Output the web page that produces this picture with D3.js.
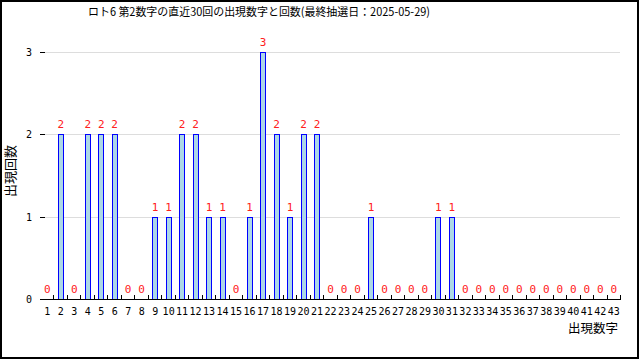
<!DOCTYPE html>
<html><head><meta charset="utf-8">
<script src="https://cdn.jsdelivr.net/npm/d3@7"></script>
<style>body{margin:0;background:#fff}svg{display:block}</style>
</head><body>
<script>
const titleText = "ロト6 第2数字の直近30回の出現数字と回数(最終抽選日：2025-05-29)";
const numbers = d3.range(1, 44);
const counts = [0,2,0,2,2,2,0,0,1,1,2,2,1,1,0,1,3,2,1,2,2,0,0,0,1,0,0,0,0,1,1,0,0,0,0,0,0,0,0,0,0,0,0];
const yTicks = [0,1,2,3];
const xLabel = "出現数字", yLabel = "出現回数";

const W = 640, H = 360;
const svg = d3.select("body").append("svg").attr("width", W).attr("height", H);
const mono = "'DejaVu Sans Mono', monospace";
const cjk = "'Noto Sans CJK JP', sans-serif";

svg.append("rect").attr("x",1).attr("y",1).attr("width",637).attr("height",357)
  .attr("fill","none").attr("stroke","#000").attr("stroke-width",2);

const x = d3.scaleBand().domain(numbers).range([40, 620]).padding(0);
const y = d3.scaleLinear().domain([0, 3]).range([299, 52]);

// gridlines
svg.append("g").selectAll("line").data(yTicks.filter(d=>d>0)).join("line")
  .attr("x1", 40).attr("x2", 620)
  .attr("y1", d=>Math.round(y(d))+0.5).attr("y2", d=>Math.round(y(d))+0.5)
  .attr("stroke", "#dddddd");

// bars
const bw = 5;
svg.append("g").selectAll("rect").data(numbers.map((n,i)=>({n, v:counts[i]})).filter(d=>d.v>0)).join("rect")
  .attr("x", d=>Math.round(x(d.n)+x.bandwidth()/2-bw/2)+0.5)
  .attr("y", d=>Math.round(y(d.v))+0.5)
  .attr("width", bw)
  .attr("height", d=>Math.round(y(0))-Math.round(y(d.v)))
  .attr("fill", "#add8e6").attr("stroke", "#0000ff").attr("stroke-width", 1)
  .attr("shape-rendering","crispEdges");

// value labels
svg.append("g").selectAll("text").data(numbers.map((n,i)=>({n, v:counts[i]}))).join("text")
  .attr("x", d=>x(d.n)+x.bandwidth()/2+0.5)
  .attr("y", d=>y(d.v)-6)
  .attr("text-anchor","middle")
  .attr("font-family", mono).attr("font-size", 11)
  .attr("fill", "#ff2020")
  .text(d=>d.v);

// x axis
const xa = svg.append("g");
xa.append("line").attr("x1",40).attr("x2",621).attr("y1",299.5).attr("y2",299.5).attr("stroke","#000");
xa.selectAll("line.tk").data(numbers.slice(1).concat([44])).join("line").attr("class","tk")
  .attr("x1", d=>Math.round(d===44?620:x(d))+0.5).attr("x2", d=>Math.round(d===44?620:x(d))+0.5)
  .attr("y1", 299).attr("y2", 295).attr("stroke","#000");
xa.selectAll("text").data(numbers).join("text")
  .attr("x", d=>x(d)+x.bandwidth()/2+0.5).attr("y", 315)
  .attr("text-anchor","middle").attr("font-family", mono).attr("font-size", 10)
  .attr("fill","#000").text(d=>d);

// y axis
const ya = svg.append("g");
ya.append("line").attr("x1",40.5).attr("x2",40.5).attr("y1",52).attr("y2",300).attr("stroke","#000");
ya.selectAll("line").data(yTicks).join(enter=>enter.append("line"))
  .attr("x1",40).attr("x2",45).attr("y1",d=>Math.round(y(d))+0.5).attr("y2",d=>Math.round(y(d))+0.5).attr("stroke","#000");
ya.selectAll("text").data(yTicks).join("text")
  .attr("x", 32).attr("y", d=>y(d)+4)
  .attr("text-anchor","end").attr("font-family", mono).attr("font-size", 10)
  .text(d=>d);

// axis titles
svg.append("text").attr("x", 618).attr("y", 333).attr("text-anchor","end")
  .attr("font-family", cjk).attr("font-size", 12.5).attr("fill","#000").text(xLabel);
svg.append("text").attr("transform","translate(15,171) rotate(-90)").attr("text-anchor","middle")
  .attr("font-family", cjk).attr("font-size", 13).attr("fill","#000").text(yLabel);

// title
svg.append("text").attr("x", 88).attr("y", 16)
  .attr("font-family", cjk).attr("font-size", 11.5).attr("fill","#000")
  .attr("textLength", 342).attr("lengthAdjust","spacingAndGlyphs")
  .text(titleText);
</script>
</body></html>
